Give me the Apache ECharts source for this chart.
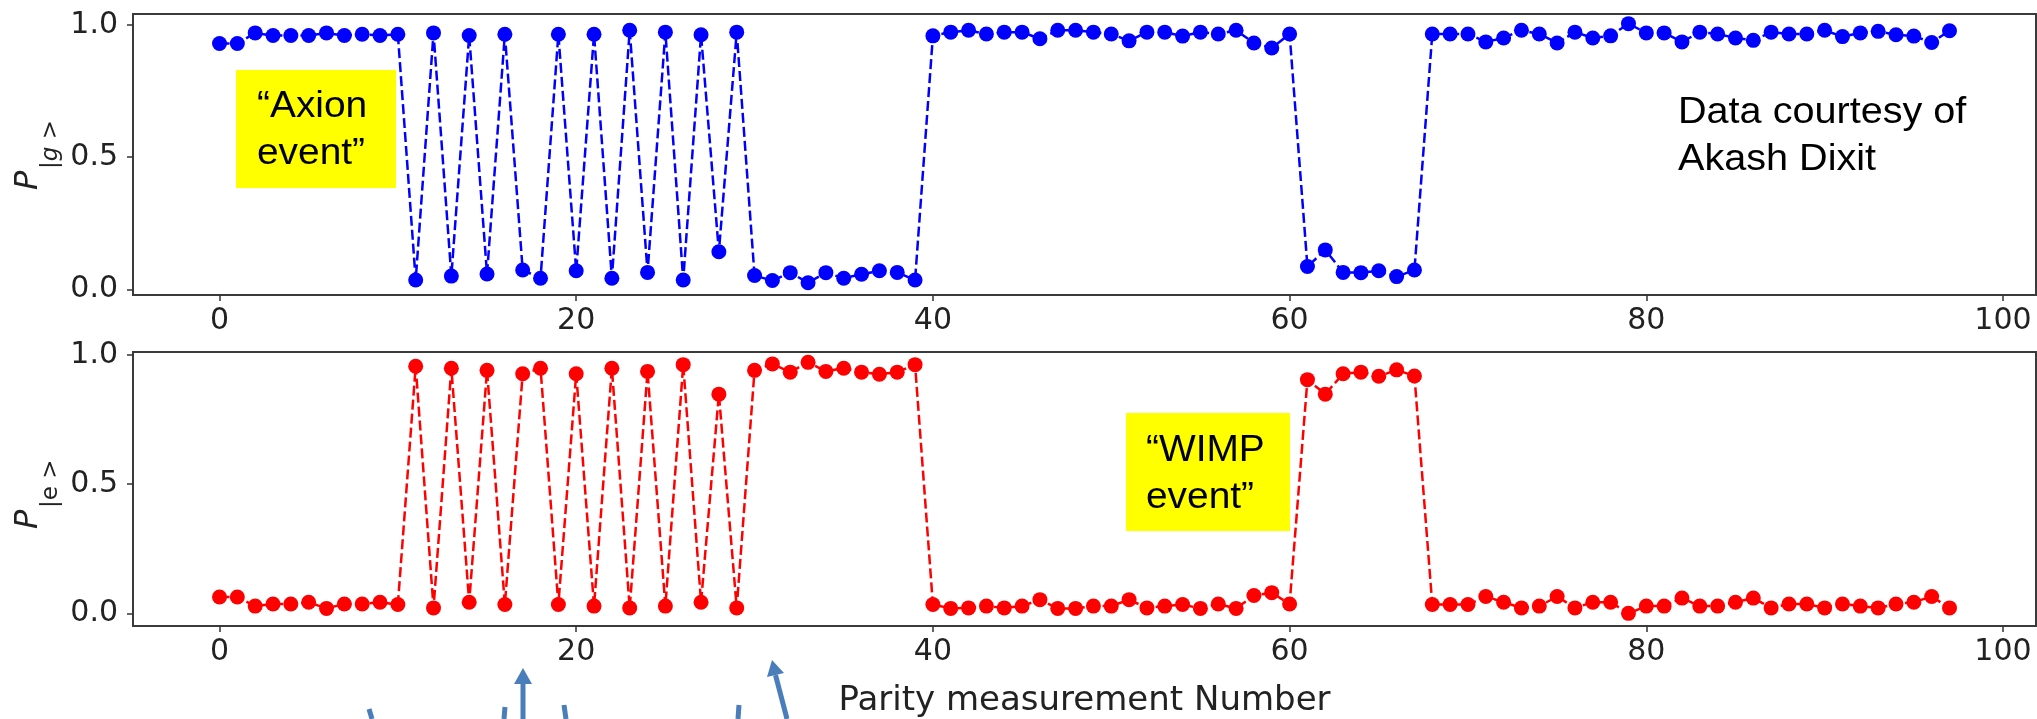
<!DOCTYPE html>
<html>
<head>
<meta charset="utf-8">
<title>Parity measurements</title>
<script src="https://cdn.jsdelivr.net/npm/echarts@6/dist/echarts.min.js"></script>
<style>
    html, body { margin: 0; padding: 0; background: #fff; }
    #parity-chart { width: 2037px; height: 719px; }
</style>
</head>
<body>
<div id="parity-chart"></div>
<script>
// P|g> per parity measurement (upper panel)
var probG = [
    0.93, 0.93, 0.97, 0.96, 0.96, 0.96, 0.97, 0.96, 0.965, 0.96,
    0.965, 0.035, 0.97, 0.05, 0.96, 0.058, 0.965, 0.073, 0.042, 0.965,
    0.07, 0.965, 0.042, 0.98, 0.064, 0.973, 0.035, 0.963, 0.142, 0.973,
    0.052, 0.033, 0.063, 0.025, 0.063, 0.042, 0.057, 0.07, 0.064, 0.035,
    0.959, 0.973, 0.98, 0.966, 0.973, 0.973, 0.948, 0.98, 0.98, 0.973,
    0.966, 0.94, 0.973, 0.973, 0.958, 0.973, 0.966, 0.98, 0.932, 0.913,
    0.966, 0.086, 0.149, 0.064, 0.063, 0.07, 0.048, 0.073, 0.966, 0.966,
    0.966, 0.936, 0.951, 0.98, 0.966, 0.932, 0.973, 0.951, 0.959, 1.005,
    0.97, 0.97, 0.936, 0.973, 0.966, 0.951, 0.942, 0.973, 0.966, 0.966,
    0.98, 0.956, 0.97, 0.976, 0.963, 0.958, 0.934, 0.978
];
// P|e> per parity measurement (lower panel)
var probE = [
    0.063, 0.063, 0.028, 0.036, 0.036, 0.043, 0.019, 0.036, 0.036, 0.043,
    0.034, 0.956, 0.021, 0.948, 0.043, 0.94, 0.034, 0.927, 0.948, 0.034,
    0.927, 0.028, 0.948, 0.021, 0.936, 0.028, 0.962, 0.043, 0.848, 0.021,
    0.94, 0.965, 0.933, 0.971, 0.936, 0.948, 0.933, 0.925, 0.933, 0.962,
    0.034, 0.019, 0.021, 0.028, 0.021, 0.028, 0.053, 0.019, 0.019, 0.028,
    0.028, 0.053, 0.021, 0.028, 0.034, 0.019, 0.036, 0.019, 0.069, 0.08,
    0.036, 0.904, 0.848, 0.927, 0.933, 0.917, 0.942, 0.918, 0.034, 0.034,
    0.034, 0.065, 0.043, 0.021, 0.028, 0.065, 0.021, 0.043, 0.043, 0.0,
    0.028, 0.028, 0.059, 0.028, 0.028, 0.043, 0.059, 0.021, 0.036, 0.036,
    0.021, 0.036, 0.028, 0.021, 0.036, 0.043, 0.065, 0.021
];
var xTicks = [0, 20, 40, 60, 80, 100];
var yTicks = [0, 0.5, 1.0];

var parityObj = {
    init: function(){
        this.chart = echarts.init(document.getElementById('parity-chart'));
        this.chart.setOption(this.buildOption());
    },
    toPoints: function(list){
        return list.map(function(v, i){ return [i, v]; });
    },
    xAxisOpt: function(gridIndex, name){
        return {
            type: 'value',
            gridIndex: gridIndex,
            min: -4.85,
            max: 101.85,
            splitLine: { show: false },
            axisLine: { show: false, onZero: false },
            axisTick: {
                show: true,
                length: 6,
                customValues: xTicks,
                lineStyle: { color: '#333', width: 1.5 }
            },
            axisLabel: {
                customValues: xTicks,
                margin: 11,
                fontFamily: 'DejaVu Sans',
                fontSize: 30,
                color: '#222'
            },
            name: name || '',
            nameLocation: 'middle',
            nameGap: 58,
            nameTextStyle: { fontFamily: 'DejaVu Sans', fontSize: 34, color: '#222' }
        };
    },
    yAxisOpt: function(gridIndex, min, max){
        return {
            type: 'value',
            gridIndex: gridIndex,
            min: min,
            max: max,
            splitLine: { show: false },
            axisLine: { show: false, onZero: false },
            axisTick: {
                show: true,
                length: 6,
                customValues: yTicks,
                lineStyle: { color: '#333', width: 1.5 }
            },
            axisLabel: {
                customValues: yTicks,
                margin: 15,
                fontFamily: 'DejaVu Sans',
                fontSize: 30,
                color: '#222',
                formatter: function(v){ return v.toFixed(1); }
            }
        };
    },
    seriesOpt: function(index, list, color){
        return {
            type: 'line',
            xAxisIndex: index,
            yAxisIndex: index,
            data: this.toPoints(list),
            symbol: 'circle',
            symbolSize: 15,
            showSymbol: true,
            itemStyle: { color: color },
            lineStyle: { color: color, width: 2.5, type: [10, 4] },
            silent: true
        };
    },
    yName: function(top, sub){
        // rotated P with a |g> style subscript, like matplotlib mathtext
        return {
            type: 'group',
            x: 45,
            y: top,
            rotation: Math.PI / 2,
            children: [
                { type: 'text', x: 0, y: 0, style: {
                    text: 'P', fontFamily: 'DejaVu Sans', fontStyle: 'italic',
                    fontSize: 32, fill: '#222', textVerticalAlign: 'bottom'
                } },
                { type: 'text', x: 21, y: 18, style: {
                    text: '{a||}{b|' + sub + '}{a| >}',
                    textVerticalAlign: 'bottom',
                    rich: {
                        a: { fontFamily: 'DejaVu Sans', fontSize: 23, fill: '#222' },
                        b: { fontFamily: 'DejaVu Sans', fontStyle: sub === 'g' ? 'italic' : 'normal', fontSize: 23, fill: '#222' }
                    }
                } }
            ]
        };
    },
    noteBox: function(x, y, w, h, text, tx, ty){
        return [
            { type: 'rect', shape: { x: x, y: y, width: w, height: h }, style: { fill: '#ffff00' }, z: 5 },
            { type: 'text', x: tx, y: ty, scaleX: 1.08, z: 6, style: {
                text: text, fontFamily: 'Liberation Sans', fontSize: 36, lineHeight: 47, fill: '#000'
            } }
        ];
    },
    arrows: function(){
        var st = { stroke: '#4a7ebb', lineWidth: 5 };
        var fill = { fill: '#4a7ebb' };
        return [
            { type: 'line', shape: { x1: 523, y1: 719, x2: 523, y2: 682 }, style: st },
            { type: 'polygon', shape: { points: [[523, 668], [514, 684], [532, 684]] }, style: fill },
            { type: 'line', shape: { x1: 787, y1: 719, x2: 775.5, y2: 675 }, style: st },
            { type: 'polygon', shape: { points: [[772, 660], [784, 673], [767, 677]] }, style: fill },
            { type: 'line', shape: { x1: 369, y1: 709, x2: 372, y2: 719 }, style: st },
            { type: 'line', shape: { x1: 505, y1: 707, x2: 504, y2: 719 }, style: st },
            { type: 'line', shape: { x1: 564, y1: 705, x2: 566, y2: 719 }, style: st },
            { type: 'line', shape: { x1: 739, y1: 705, x2: 738, y2: 719 }, style: st }
        ];
    },
    buildOption: function(){
        var gridStyle = { show: true, borderColor: '#3a3a3a', borderWidth: 2, backgroundColor: 'transparent' };
        var graphics = [
            this.yName(190, 'g'),
            this.yName(529, 'e'),
            { type: 'text', x: 1678, y: 90, scaleX: 1.1, z: 6, style: {
                text: 'Data courtesy of\nAkash Dixit', fontFamily: 'Liberation Sans',
                fontSize: 36, lineHeight: 47, fill: '#000'
            } }
        ]
            .concat(this.noteBox(236, 70, 160, 118, '\u201cAxion\nevent\u201d', 257, 84))
            .concat(this.noteBox(1126, 413, 164, 118, '\u201cWIMP\nevent\u201d', 1146, 428))
            .concat(this.arrows());

        return {
            animation: false,
            backgroundColor: '#fff',
            grid: [
                echarts.util.extend({ left: 133, top: 14, width: 1903, height: 281 }, gridStyle),
                echarts.util.extend({ left: 133, top: 352, width: 1903, height: 282 }, gridStyle)
            ],
            xAxis: [
                this.xAxisOpt(0),
                this.xAxisOpt(1, 'Parity measurement Number')
            ],
            yAxis: [
                this.yAxisOpt(0, -0.0216, 1.0416),
                this.yAxisOpt(1, -0.049, 1.011)
            ],
            series: [
                this.seriesOpt(0, probG, '#0000ff'),
                this.seriesOpt(1, probE, '#ff0000')
            ],
            graphic: graphics
        };
    }
};

parityObj.init();
</script>
</body>
</html>
